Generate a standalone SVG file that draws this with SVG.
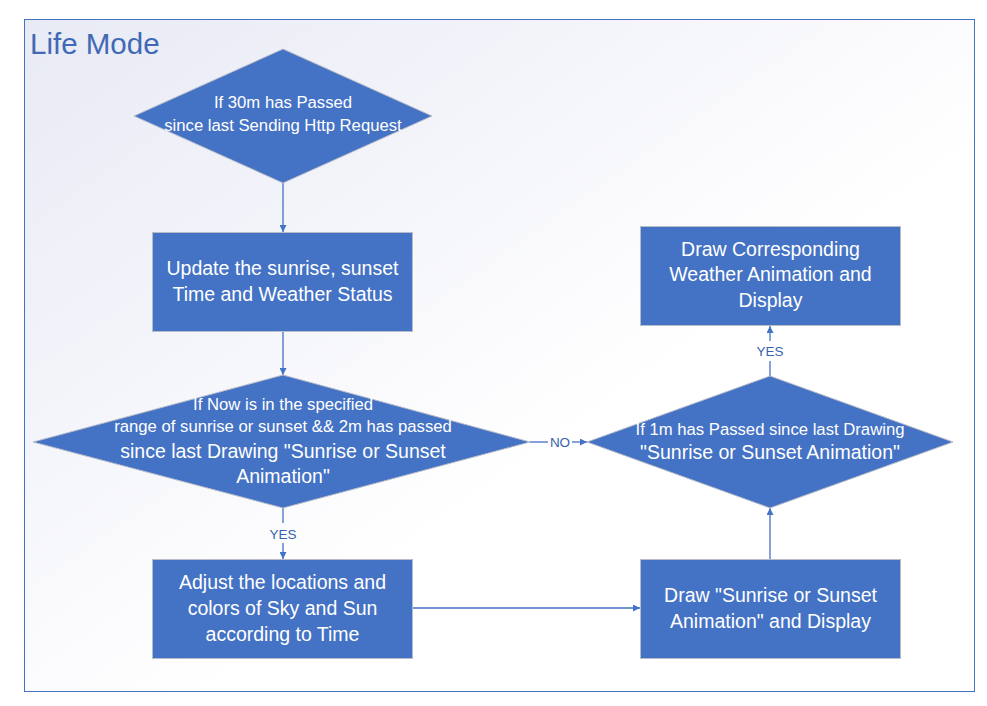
<svg xmlns="http://www.w3.org/2000/svg" width="987" height="706" viewBox="0 0 987 706">
<defs>
<linearGradient id="bg" x1="0" y1="0" x2="1" y2="1">
<stop offset="0" stop-color="#E8EAF5"/>
<stop offset="0.6" stop-color="#FFFFFF"/>
<stop offset="1" stop-color="#FFFFFF"/>
</linearGradient>
<marker id="ah" viewBox="0 0 10 10" refX="10" refY="5" markerWidth="7" markerHeight="7" markerUnits="userSpaceOnUse" orient="auto">
<path d="M0,0 L10,5 L0,10 z" fill="#4472C4"/>
</marker>
<style>
.shape{fill:#4472C4;stroke:#B8BCC8;stroke-width:1}
.t{fill:#FFFFFF;font-family:"Liberation Sans",Arial,sans-serif;text-anchor:middle}
.s{font-size:16.7px}
.l{font-size:19.5px}
.c{fill:none;stroke:#4472C4;stroke-width:1.3}
.lab{fill:#3A62AE;font-family:"Liberation Sans",Arial,sans-serif;font-size:13.5px;text-anchor:middle}
</style>
</defs>
<rect x="0" y="0" width="987" height="706" fill="#FFFFFF"/>
<g id="container">
<rect x="24.5" y="19.5" width="950" height="672" fill="url(#bg)" stroke="#4472C4" stroke-width="1"/>
<text x="30" y="54" fill="#4169B5" font-family="Liberation Sans,Arial,sans-serif" font-size="29.5">Life Mode</text>
</g>
<g id="connectors">
<line class="c" x1="283" y1="183" x2="283" y2="232" marker-end="url(#ah)"/>
<line class="c" x1="283" y1="331" x2="283" y2="375" marker-end="url(#ah)"/>
<line class="c" x1="283" y1="508" x2="283" y2="523"/>
<line class="c" x1="283" y1="543" x2="283" y2="559" marker-end="url(#ah)"/>
<text class="lab" x="283" y="538.5">YES</text>
<line class="c" x1="412" y1="608" x2="640" y2="608" marker-end="url(#ah)"/>
<line class="c" x1="770" y1="559" x2="770" y2="508" marker-end="url(#ah)"/>
<line class="c" x1="530" y1="442" x2="548" y2="442"/>
<line class="c" x1="572" y1="442" x2="587" y2="442" marker-end="url(#ah)"/>
<text class="lab" x="560" y="447">NO</text>
<line class="c" x1="770" y1="376" x2="770" y2="361"/>
<line class="c" x1="770" y1="341" x2="770" y2="326" marker-end="url(#ah)"/>
<text class="lab" x="770" y="355.5">YES</text>
</g>
<g id="d1">
<polygon class="shape" points="283,49 432,116 283,183 134,116"/>
<text class="t s" x="283" y="108">If 30m has Passed</text>
<text class="t s" x="283" y="131">since last Sending Http Request</text>
</g>
<g id="b1">
<rect class="shape" x="152.5" y="232.5" width="260" height="99"/>
<text class="t l" x="282.5" y="275">Update the sunrise, sunset</text>
<text class="t l" x="282.5" y="301">Time and Weather Status</text>
</g>
<g id="d2">
<polygon class="shape" points="283,375 530,442 283,508 33,442"/>
<text class="t s" x="283" y="410">If Now is in the specified</text>
<text class="t s" x="283" y="432">range of sunrise or sunset &amp;&amp; 2m has passed</text>
<text class="t l" x="283" y="458">since last Drawing "Sunrise or Sunset</text>
<text class="t l" x="283" y="483">Animation"</text>
</g>
<g id="b3">
<rect class="shape" x="152.5" y="559.5" width="260" height="99"/>
<text class="t l" x="282.5" y="589">Adjust the locations and</text>
<text class="t l" x="282.5" y="615">colors of Sky and Sun</text>
<text class="t l" x="282.5" y="641">according to Time</text>
</g>
<g id="b4">
<rect class="shape" x="640.5" y="559.5" width="260" height="99"/>
<text class="t l" x="770.5" y="602">Draw "Sunrise or Sunset</text>
<text class="t l" x="770.5" y="628">Animation" and Display</text>
</g>
<g id="d3">
<polygon class="shape" points="770,376 953,442 770,508 587,442"/>
<text class="t s" x="770" y="435">If 1m has Passed since last Drawing</text>
<text class="t l" x="770" y="459">"Sunrise or Sunset Animation"</text>
</g>
<g id="b5">
<rect class="shape" x="640.5" y="226.5" width="260" height="99"/>
<text class="t l" x="770.5" y="256">Draw Corresponding</text>
<text class="t l" x="770.5" y="281">Weather Animation and</text>
<text class="t l" x="770.5" y="307">Display</text>
</g>
</svg>
